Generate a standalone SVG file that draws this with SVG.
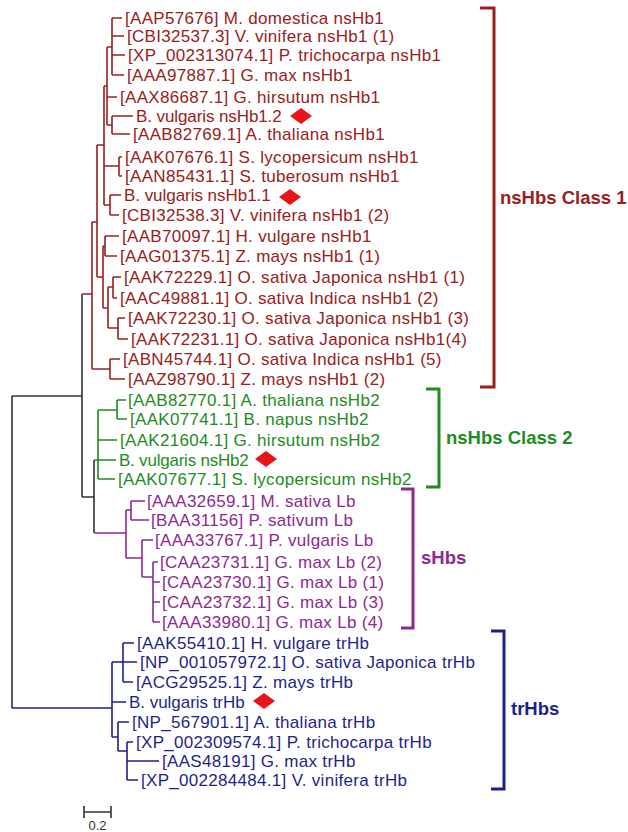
<svg xmlns="http://www.w3.org/2000/svg" width="628" height="832" viewBox="0 0 628 832">
<style>
text{font-family:"Liberation Sans",Arial,sans-serif;font-size:17px;letter-spacing:0.3px}
.r{fill:#9a2020}.g{fill:#1e8c1e}.p{fill:#8e2a8e}.b{fill:#1f1f8c}
.lr{stroke:#9a2020}.lg{stroke:#1e8c1e}.lp{stroke:#8e2a8e}.lb{stroke:#1f1f8c}.lk{stroke:#333}
path{fill:none;stroke-width:1.6}
.br{stroke-width:3;fill:none}
.cl{font-size:18.5px;font-weight:bold;letter-spacing:0}
</style>
<g id="connectors">
<path class="lk" d="M12,396 V708 M12,396 H82 M82,294 V497 M82,497 H94 M94,460 V533"/>
<path class="lr" d="M82,294 H92 M92,222 V369 M92,222 H97 M92,369 H110 M110,359 V379 M110,359 H120 M110,379 H125
M97,145 V277 M97,145 H104 M97,277 H103
M104,86 V205 M104,86 H107 M104,166 H119 M104,205 H110
M107,47 V125 M107,47 H112 M107,97 H117 M107,125 H112
M112,18 V75 M112,18 H122 M112,36 H124 M112,55 H125 M112,75 H124
M112,116 V134 M112,116 H133 M112,134 H130
M119,157 V176 M119,157 H122 M119,176 H122
M110,195 V215 M110,195 H121 M110,215 H119
M103,246 V308 M103,246 H105 M103,308 H108
M105,236 V256 M105,236 H119 M105,256 H117
M108,287 V328 M108,287 H113 M108,328 H118
M113,277 V298 M113,277 H121 M113,298 H117
M118,318 V339 M118,318 H125 M118,339 H128"/>
<path class="lg" d="M94,460 H98 M98,410 V479 M98,410 H117 M117,400 V419 M117,400 H126 M117,419 H127 M98,440 H117 M98,460 H116 M98,479 H115"/>
<path class="lp" d="M94,533 H126 M126,510 V558 M126,510 H131 M131,501 V520 M131,501 H145 M131,520 H149 M126,558 H142 M142,540 V577 M142,540 H153 M142,577 H153 M153,562 V622 M153,562 H158 M153,582 H160 M153,602 H160 M153,622 H160"/>
<path class="lb" d="M12,708 H112 M112,662 V737 M112,662 H123 M123,643 V682 M123,643 H134 M123,662 H137 M123,682 H133 M112,702 H126 M112,737 H118 M118,722 V751 M118,722 H129 M118,751 H127 M127,742 V780 M127,742 H133 M127,761 H159 M127,780 H138"/>
</g>
<g id="labels-class1">
<text class="r" x="125" y="24">[AAP57676] M. domestica nsHb1</text>
<text class="r" x="127" y="42">[CBI32537.3] V. vinifera nsHb1 (1)</text>
<text class="r" x="128" y="61">[XP_002313074.1] P. trichocarpa nsHb1</text>
<text class="r" x="127" y="81">[AAA97887.1] G. max nsHb1</text>
<text class="r" x="120" y="103">[AAX86687.1] G. hirsutum nsHb1</text>
<text class="r" x="136" y="122" textLength="146">B. vulgaris nsHb1.2</text>
<text class="r" x="133" y="140">[AAB82769.1] A. thaliana nsHb1</text>
<text class="r" x="125" y="163">[AAK07676.1] S. lycopersicum nsHb1</text>
<text class="r" x="125" y="182">[AAN85431.1] S. tuberosum nsHb1</text>
<text class="r" x="124" y="201" textLength="147">B. vulgaris nsHb1.1</text>
<text class="r" x="122" y="221">[CBI32538.3] V. vinifera nsHb1 (2)</text>
<text class="r" x="122" y="242">[AAB70097.1] H. vulgare nsHb1</text>
<text class="r" x="120" y="262">[AAG01375.1] Z. mays nsHb1 (1)</text>
<text class="r" x="124" y="283">[AAK72229.1] O. sativa Japonica nsHb1 (1)</text>
<text class="r" x="120" y="304">[AAC49881.1] O. sativa Indica nsHb1 (2)</text>
<text class="r" x="128" y="324">[AAK72230.1] O. sativa Japonica nsHb1 (3)</text>
<text class="r" x="131" y="345">[AAK72231.1] O. sativa Japonica nsHb1(4)</text>
<text class="r" x="123" y="365">[ABN45744.1] O. sativa Indica nsHb1 (5)</text>
<text class="r" x="128" y="385">[AAZ98790.1] Z. mays nsHb1 (2)</text>
</g>
<g id="labels-class2">
<text class="g" x="128" y="406">[AAB82770.1] A. thaliana nsHb2</text>
<text class="g" x="130" y="425">[AAK07741.1] B. napus nsHb2</text>
<text class="g" x="120" y="446">[AAK21604.1] G. hirsutum nsHb2</text>
<text class="g" x="119" y="466" textLength="130">B. vulgaris nsHb2</text>
<text class="g" x="118" y="485">[AAK07677.1] S. lycopersicum nsHb2</text>
</g>
<g id="labels-shbs">
<text class="p" x="147" y="507">[AAA32659.1] M. sativa Lb</text>
<text class="p" x="151" y="526">[BAA31156] P. sativum Lb</text>
<text class="p" x="155" y="546">[AAA33767.1] P. vulgaris Lb</text>
<text class="p" x="160" y="568">[CAA23731.1] G. max Lb (2)</text>
<text class="p" x="162" y="588">[CAA23730.1] G. max Lb (1)</text>
<text class="p" x="162" y="608">[CAA23732.1] G. max Lb (3)</text>
<text class="p" x="162" y="628">[AAA33980.1] G. max Lb (4)</text>
</g>
<g id="labels-trhbs">
<text class="b" x="137" y="649">[AAK55410.1] H. vulgare trHb</text>
<text class="b" x="140" y="668">[NP_001057972.1] O. sativa Japonica trHb</text>
<text class="b" x="136" y="688">[ACG29525.1] Z. mays trHb</text>
<text class="b" x="129" y="708" textLength="116">B. vulgaris trHb</text>
<text class="b" x="132" y="728">[NP_567901.1] A. thaliana trHb</text>
<text class="b" x="136" y="748">[XP_002309574.1] P. trichocarpa trHb</text>
<text class="b" x="162" y="767">[AAS48191] G. max trHb</text>
<text class="b" x="141" y="786">[XP_002284484.1] V. vinifera trHb</text>
</g>
<g id="markers" fill="#e8141c">
<polygon points="290,116 301,108 312,116 301,124"/>
<polygon points="279,197 290,189 301,197 290,205"/>
<polygon points="255,459 266,451 277,459 266,467"/>
<polygon points="253,701 264,693 275,701 264,709"/>
</g>
<g id="bracket-class1">
<path class="br lr" d="M480,8 H494 V387 H480"/>
<text class="r cl" x="500" y="204">nsHbs Class 1</text>
</g>
<g id="bracket-class2">
<path class="br lg" d="M426,389 H439 V487 H426"/>
<text class="g cl" x="446" y="444">nsHbs Class 2</text>
</g>
<g id="bracket-shbs">
<path class="br lp" d="M401,489 H413 V628 H401"/>
<text class="p cl" x="421" y="564">sHbs</text>
</g>
<g id="bracket-trhbs">
<path class="br lb" d="M491,631 H504 V789 H491"/>
<text class="b cl" x="511" y="715">trHbs</text>
</g>
<g id="scale">
<path class="lk" d="M84,812 H111 M84,806 V818 M111,806 V818"/>
<text x="97.5" y="830" text-anchor="middle" fill="#333" style="font-size:13px;letter-spacing:0">0.2</text>
</g>
</svg>
